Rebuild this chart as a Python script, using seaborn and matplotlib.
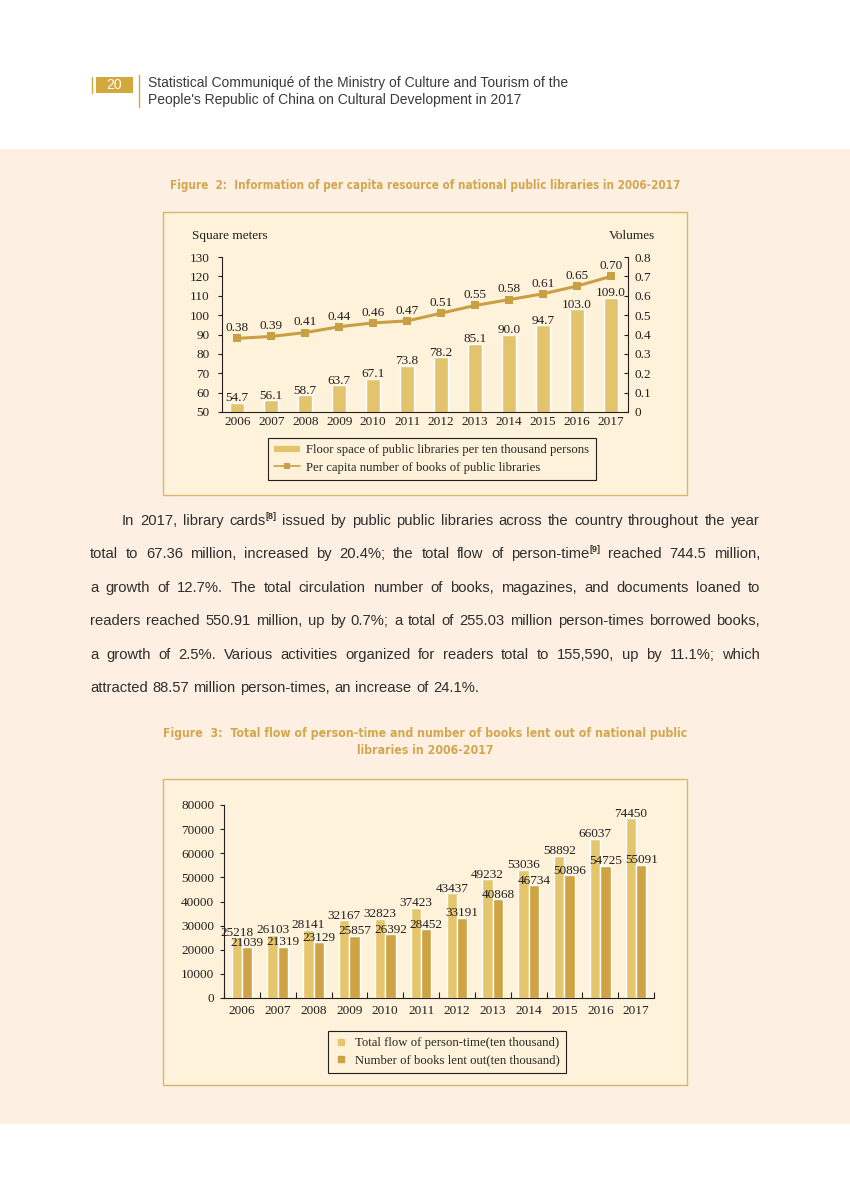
import numpy as np
import pandas as pd
import matplotlib
matplotlib.use("Agg")
import matplotlib.pyplot as plt
import seaborn as sns
from matplotlib.patches import Rectangle
from matplotlib.lines import Line2D
from matplotlib import font_manager as fm

# ---- data ----
years = ["2006", "2007", "2008", "2009", "2010", "2011",
         "2012", "2013", "2014", "2015", "2016", "2017"]
floor_space = [54.7, 56.1, 58.7, 63.7, 67.1, 73.8, 78.2, 85.1, 90.0, 94.7, 103.0, 109.0]
books_per_capita = [0.38, 0.39, 0.41, 0.44, 0.46, 0.47, 0.51, 0.55, 0.58, 0.61, 0.65, 0.70]
person_flow = [25218, 26103, 28141, 32167, 32823, 37423, 43437, 49232, 53036, 58892, 66037, 74450]
books_lent = [21039, 21319, 23129, 25857, 26392, 28452, 33191, 40868, 46734, 50896, 54725, 55091]

left_ticks1 = [50, 60, 70, 80, 90, 100, 110, 120, 130]
right_ticks1 = [0, 0.1, 0.2, 0.3, 0.4, 0.5, 0.6, 0.7, 0.8]
right_labels1 = ["0", "0.1", "0.2", "0.3", "0.4", "0.5", "0.6", "0.7", "0.8"]
flow_ticks = [0, 10000, 20000, 30000, 40000, 50000, 60000, 70000, 80000]

series_names = ["Total flow of person-time(ten thousand)",
                "Number of books lent out(ten thousand)"]
legend1_names = ["Floor space of public libraries per ten thousand persons",
                 "Per capita number of books of public libraries"]

header = ["Statistical Communiqué of the Ministry of Culture and Tourism of the",
          "People's Republic of China on Cultural Development in 2017"]
title2 = "Figure  2:  Information of per capita resource of national public libraries in 2006-2017"
title3 = ["Figure  3:  Total flow of person-time and number of books lent out of national public",
          "libraries in 2006-2017"]
paragraph = [
    "In 2017, library cards^[8] issued by public public libraries across the country throughout the year",
    "total to 67.36 million, increased by 20.4%; the total flow of person-time^[9] reached 744.5 million,",
    "a growth of 12.7%. The total circulation number of books, magazines, and documents loaned to",
    "readers reached 550.91 million, up by 0.7%; a total of 255.03 million person-times borrowed books,",
    "a growth of 2.5%. Various activities organized for readers total to 155,590, up by 11.1%; which",
    "attracted 88.57 million person-times, an increase of 24.1%.",
]

# ---- colours / fonts ----
BAND = "#fdf0e2"
BOX = "#fef3da"
EDGE = "#d8b66c"
GOLD = "#d3a83c"
TITLE = "#d4a64e"
BAR1 = "#e3c46c"
LINE = "#c99f44"
LIGHT = "#e5c66c"
DARK = "#cfa244"
INK = "#231f20"

sns.set_theme(style="white")
plt.rcParams["font.family"] = ["Liberation Serif", "DejaVu Serif"]
names = {f.name for f in fm.fontManager.ttflist}
if "Liberation Sans Narrow" in names:
    NARROW, STRETCH = "Liberation Sans Narrow", "normal"
else:
    NARROW, STRETCH = "DejaVu Sans", "condensed"
SANS = "Liberation Sans"

W, H = 850, 1193
fig = plt.figure(figsize=(8.5, 11.93), dpi=100)
fig.patch.set_facecolor("white")
renderer = fig.canvas.get_renderer()

bg = fig.add_axes([0, 0, 1, 1])
bg.set_xlim(0, W)
bg.set_ylim(H, 0)
bg.axis("off")


def fax(x0, y0, x1, y1):
    return fig.add_axes([x0 / W, 1 - y1 / H, (x1 - x0) / W, (y1 - y0) / H])


def fit(t, width):
    w = t.get_window_extent(renderer).width
    t.set_fontsize(t.get_fontsize() * width / w)


# page background pieces
bg.add_patch(Rectangle((0, 149), W, 975, color=BAND, lw=0))
bg.add_patch(Rectangle((163.5, 211.5), 524, 283, fc=BOX, ec=EDGE, lw=1))
bg.add_patch(Rectangle((163.5, 778.5), 524, 306.5, fc=BOX, ec=EDGE, lw=1))

# header
bg.add_patch(Rectangle((96, 76.5), 37, 16, color=GOLD, lw=0))
bg.text(114.5, 85, "20", color="white", ha="center", va="center", fontsize=10, family=SANS)
bg.plot([92, 92], [76.5, 92.5], color=GOLD, lw=1)
bg.plot([139, 139], [75, 107], color=GOLD, lw=1)
for i, line in enumerate(header):
    t = bg.text(148, 83 + 17 * i, line, va="center", ha="left", family=SANS,
                fontsize=9.5, color="#3a3a3a")
    fit(t, 419 if i == 0 else 374)

# titles
tkw = dict(ha="center", va="center", family=NARROW, fontstretch=STRETCH,
           weight="bold", color=TITLE)
t = bg.text(425.5, 186, title2, fontsize=10, **tkw)
fit(t, 507)
t = bg.text(425, 733, title3[0], fontsize=10, **tkw)
fit(t, 523)
bg.text(425, 751, title3[1], fontsize=t.get_fontsize(), **tkw)

# paragraph, justified
PSIZE = 10.6


def put_line(text, x0, x1, y, justify):
    words = []
    for w in text.split(" "):
        sup = None
        if "^" in w:
            w, sup = w.split("^")
        t = bg.text(0, y, w, family=SANS, fontsize=PSIZE, color="#2e2e2e",
                    ha="left", va="baseline")
        width = t.get_window_extent(renderer).width
        s = None
        if sup:
            s = bg.text(0, y - 6, sup, family=SANS, fontsize=6.5, weight="bold",
                        color="#2e2e2e", ha="left", va="baseline")
            width += s.get_window_extent(renderer).width
        words.append((t, s, width))
    total = sum(w[2] for w in words)
    gap = (x1 - x0 - total) / (len(words) - 1) if justify else 4.5
    x = x0
    for t, s, width in words:
        t.set_x(x)
        if s is not None:
            s.set_x(x + t.get_window_extent(renderer).width)
        x += width + gap


for i, line in enumerate(paragraph):
    y = 520 + 33.4 * i + 5
    put_line(line, 122 if i == 0 else 90, 760, y, i < len(paragraph) - 1)

# ---- chart 1 ----
ax1 = fax(222, 257, 628, 412)
df1 = pd.DataFrame({"year": years, "floor": floor_space})
sns.barplot(data=df1, x="year", y="floor", ax=ax1, color=BAR1, width=0.4,
            saturation=1)
ax1.set_ylim(50, 130)
ax1.set_yticks(left_ticks1)
ax1.patch.set_visible(False)
ax1.set_xlabel("")
ax1.set_ylabel("")
for i, v in enumerate(floor_space):
    ax1.annotate(f"{v:.1f}", (i, v), xytext=(0, -1), textcoords="offset points",
                 ha="center", va="bottom", fontsize=9.5, color=INK)

ax1b = ax1.twinx()
sns.lineplot(x=np.arange(len(years)), y=books_per_capita, ax=ax1b, color=LINE,
             lw=2.2, marker="s", markersize=5.5, markeredgewidth=0)
ax1b.set_ylim(0, 0.8)
ax1b.set_yticks(right_ticks1)
ax1b.set_yticklabels(right_labels1)
for i, v in enumerate(books_per_capita):
    ax1b.annotate(f"{v:.2f}", (i, v), xytext=(0, 3), textcoords="offset points",
                  ha="center", va="bottom", fontsize=9.5, color=INK)
ax1.set_xlim(-0.45, 11.5)

for a in (ax1, ax1b):
    for s in a.spines.values():
        s.set_visible(False)
        s.set_color(INK)
        s.set_linewidth(0.8)
ax1.spines["left"].set_visible(True)
ax1.spines["bottom"].set_visible(True)
ax1b.spines["right"].set_visible(True)
ax1.tick_params(axis="x", length=0, pad=3, labelsize=9.5, labelcolor=INK)
ax1.tick_params(axis="y", direction="out", length=3, width=0.8, color=INK,
                pad=6, labelsize=9.5, labelcolor=INK, left=True)
ax1b.tick_params(axis="y", direction="in", length=3, width=0.8, color=INK,
                 pad=5, labelsize=9.5, labelcolor=INK, right=True)
bg.text(192, 236, "Square meters", ha="left", va="center", fontsize=9.5, color=INK)
bg.text(655, 236, "Volumes", ha="right", va="center", fontsize=9.5, color=INK)

h1 = [Line2D([], [], color=BAR1, lw=4.5, solid_capstyle="butt"),
      Line2D([], [], color=LINE, lw=1.2, marker="s", markersize=5, markeredgewidth=0)]
leg1 = fig.legend(h1, legend1_names, loc="upper left",
                  bbox_to_anchor=(268 / W, 1 - 438 / H), bbox_transform=fig.transFigure,
                  fancybox=False, edgecolor=INK, facecolor=BOX, framealpha=1,
                  fontsize=9.2, handlelength=2.0, handletextpad=0.5, labelspacing=0.4,
                  borderpad=0.5, borderaxespad=0)
leg1.get_frame().set_linewidth(0.8)

# ---- chart 2 ----
ax2 = fax(224, 805, 654, 998)
df2 = pd.DataFrame({
    "year": years * 2,
    "series": [series_names[0]] * len(years) + [series_names[1]] * len(years),
    "value": person_flow + books_lent,
})
sns.barplot(data=df2, x="year", y="value", hue="series", ax=ax2,
            palette=[LIGHT, DARK], width=0.58, saturation=1, legend=False)
ax2.set_ylim(0, 80000)
ax2.set_yticks(flow_ticks)
ax2.set_xlim(-0.5, 11.5)
ax2.patch.set_visible(False)
ax2.set_xlabel("")
ax2.set_ylabel("")
for c in ax2.containers:
    ax2.bar_label(c, fmt="%d", padding=-1, fontsize=9.5, color=INK)
for s in ax2.spines.values():
    s.set_visible(False)
    s.set_color(INK)
    s.set_linewidth(0.8)
ax2.spines["left"].set_visible(True)
ax2.spines["bottom"].set_visible(True)
ax2.set_xticks(np.arange(-0.5, 12, 1), minor=True)
ax2.tick_params(axis="x", which="major", length=0, pad=5, labelsize=9.5, labelcolor=INK)
ax2.tick_params(axis="x", which="minor", direction="in", length=4, width=0.8,
                color=INK, bottom=True)
ax2.tick_params(axis="y", direction="out", length=3, width=0.8, color=INK,
                pad=4, labelsize=9.5, labelcolor=INK, left=True)

h2 = [Line2D([], [], ls="", marker="s", markersize=5, color=LIGHT),
      Line2D([], [], ls="", marker="s", markersize=5, color=DARK)]
leg2 = fig.legend(h2, series_names, loc="upper left",
                  bbox_to_anchor=(328 / W, 1 - 1031 / H), bbox_transform=fig.transFigure,
                  fancybox=False, edgecolor=INK, facecolor=BOX, framealpha=1,
                  fontsize=9.2, handlelength=1.0, handletextpad=0.6, labelspacing=0.4,
                  borderpad=0.5, borderaxespad=0)
leg2.get_frame().set_linewidth(0.8)

fig.savefig("out.png", dpi=100, facecolor="white")
